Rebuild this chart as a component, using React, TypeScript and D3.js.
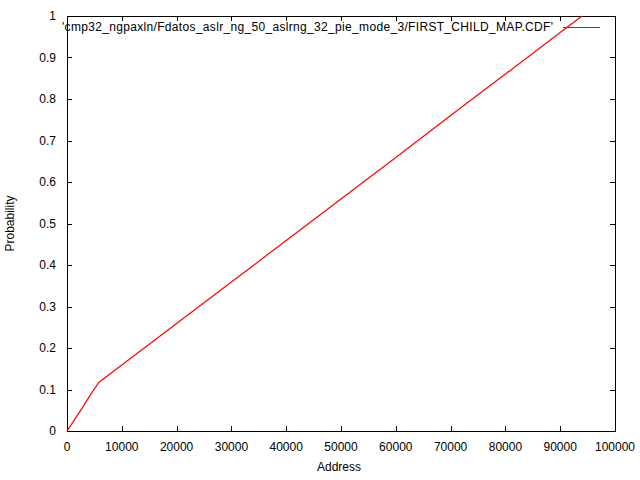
import { useEffect, useRef } from 'react';
import * as d3 from 'd3';

const addresses = [0, 1500, 3000, 4500, 5800, 10000, 20000, 30000, 40000, 50000, 60000, 70000, 80000, 90000, 94000];
const probabilities = [0, 0.03, 0.06, 0.092, 0.117, 0.159, 0.259, 0.359, 0.459, 0.559, 0.659, 0.76, 0.86, 0.96, 1.0];
const xTicks = [0, 10000, 20000, 30000, 40000, 50000, 60000, 70000, 80000, 90000, 100000];
const yTicks = [0, 0.1, 0.2, 0.3, 0.4, 0.5, 0.6, 0.7, 0.8, 0.9, 1];
const seriesLabel = "'cmp32_ngpaxln/Fdatos_aslr_ng_50_aslrng_32_pie_mode_3/FIRST_CHILD_MAP.CDF'";

const App = () => {
  const ref = useRef<SVGSVGElement | null>(null);

  useEffect(() => {
    if (!ref.current) return;
    const width = 640;
    const height = 480;
    const svg = d3.select(ref.current);
    svg.selectAll('*').remove();
    svg.attr('width', width).attr('height', height).style('display', 'block');

    const margin = { top: 16, right: 25, bottom: 49, left: 67 };
    const x = d3.scaleLinear().domain([0, 100000]).range([margin.left, width - margin.right]);
    const y = d3.scaleLinear().domain([0, 1]).range([height - margin.bottom, margin.top]);
    const font = "'Liberation Sans', Arial, sans-serif";
    const tick = 5;

    svg.append('rect').attr('width', width).attr('height', height).attr('fill', '#fff');

    const g = svg.append('g').attr('font-family', font).attr('font-size', 12).attr('fill', '#000');

    // ticks (mirrored like gnuplot)
    xTicks.forEach((t) => {
      const px = Math.round(x(t)) + 0.5;
      g.append('line').attr('x1', px).attr('x2', px).attr('y1', y(0)).attr('y2', y(0) - tick).attr('stroke', '#000');
      g.append('line').attr('x1', px).attr('x2', px).attr('y1', y(1)).attr('y2', y(1) + tick).attr('stroke', '#000');
      g.append('text').attr('x', x(t)).attr('y', y(0) + 20).attr('text-anchor', 'middle').text(d3.format('d')(t));
    });
    yTicks.forEach((t) => {
      const py = Math.round(y(t)) + 0.5;
      g.append('line').attr('x1', x(0)).attr('x2', x(0) + tick).attr('y1', py).attr('y2', py).attr('stroke', '#000');
      g.append('line').attr('x1', x(100000)).attr('x2', x(100000) - tick).attr('y1', py).attr('y2', py).attr('stroke', '#000');
      g.append('text').attr('x', x(0) - 11).attr('y', y(t) + 4).attr('text-anchor', 'end').text(String(t));
    });

    g.append('rect')
      .attr('x', Math.round(x(0)) + 0.5)
      .attr('y', Math.round(y(1)) + 0.5)
      .attr('width', Math.round(x(100000)) - Math.round(x(0)))
      .attr('height', Math.round(y(0)) - Math.round(y(1)))
      .attr('fill', 'none')
      .attr('stroke', '#000');

    g.append('text').attr('x', 339).attr('y', 471).attr('text-anchor', 'middle').text('Address');
    g.append('text')
      .attr('transform', `translate(14,${(y(0) + y(1)) / 2}) rotate(-90)`)
      .attr('text-anchor', 'middle')
      .text('Probability');

    // legend
    g.append('text')
      .attr('x', 62)
      .attr('y', 31)
      .attr('textLength', 491)
      .attr('lengthAdjust', 'spacing')
      .text(seriesLabel);
    g.append('line').attr('x1', 563).attr('x2', 600).attr('y1', 27.5).attr('y2', 27.5).attr('stroke', '#f00');

    const pts: [number, number][] = addresses.map((a, i) => [a, probabilities[i]]);
    const line = d3.line<[number, number]>().x((d) => x(d[0])).y((d) => y(d[1]));
    svg.append('path').datum(pts).attr('d', line).attr('fill', 'none').attr('stroke', '#f00').attr('stroke-width', 1.2);
  }, []);

  return <svg ref={ref} role="img" aria-label="CDF chart" style={{ position: 'absolute', left: 0, top: 0 }} />;
};

export default App;
